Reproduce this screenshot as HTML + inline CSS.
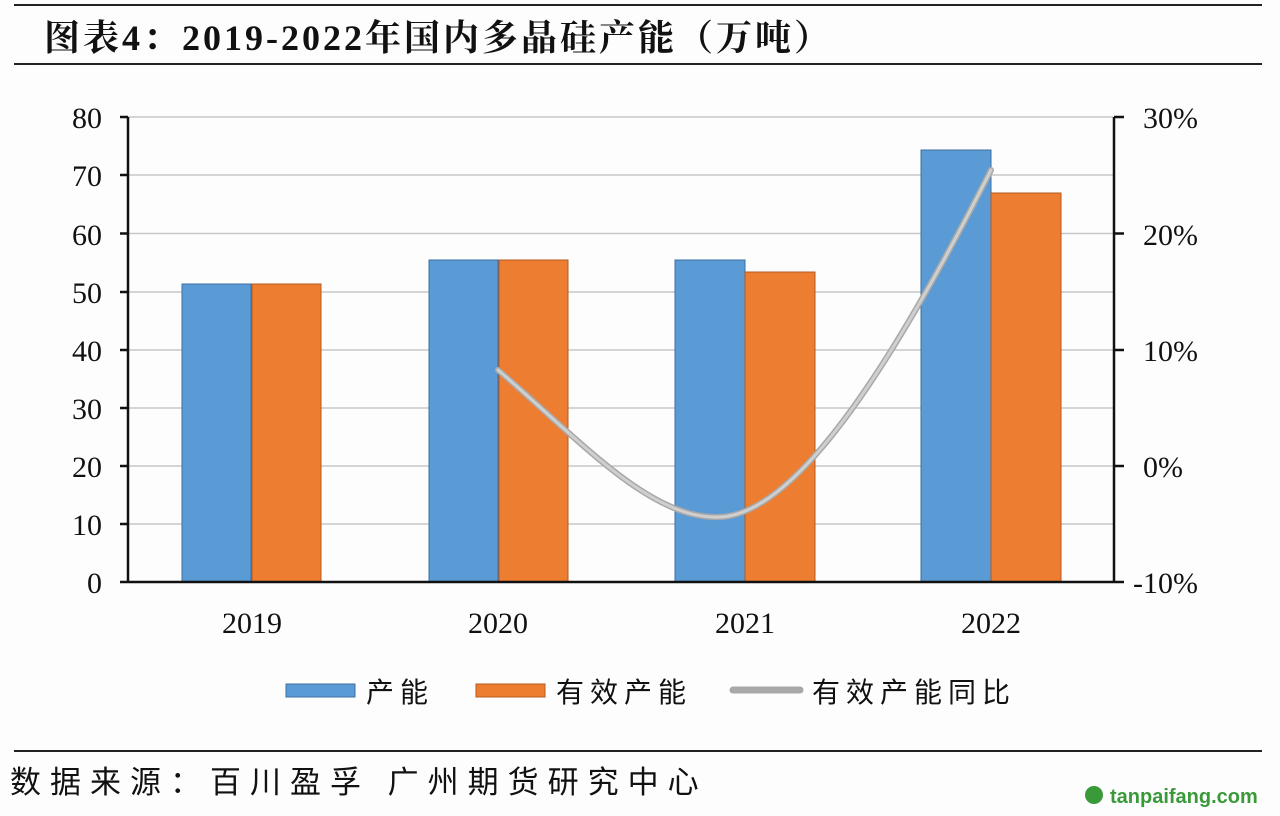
<!DOCTYPE html>
<html><head><meta charset="utf-8"><style>
body{margin:0;background:#fdfdfd;}
svg{display:block}
.t{font-family:"Liberation Serif",serif;font-size:30px;fill:#111}
.c{font-family:"Liberation Sans","Noto Sans CJK SC",sans-serif;fill:#111}
</style></head><body>
<svg width="1280" height="816" viewBox="0 0 1280 816">
<rect width="1280" height="816" fill="#fdfdfd"/>
<line x1="14" y1="5" x2="1262" y2="5" stroke="#222" stroke-width="2"/>
<text x="44" y="50" font-size="36" font-weight="bold" fill="#111" font-family="'Liberation Serif','Noto Serif CJK SC',serif" letter-spacing="3">图表4：2019-2022年国内多晶硅产能（万吨）</text>
<line x1="14" y1="64" x2="1262" y2="64" stroke="#222" stroke-width="2"/>
<g stroke="#c8c8c8" stroke-width="1.5">
<line x1="128" y1="117" x2="1113" y2="117"/><line x1="128" y1="175" x2="1113" y2="175"/>
<line x1="128" y1="233.5" x2="1113" y2="233.5"/><line x1="128" y1="292" x2="1113" y2="292"/>
<line x1="128" y1="350" x2="1113" y2="350"/><line x1="128" y1="408" x2="1113" y2="408"/>
<line x1="128" y1="466" x2="1113" y2="466"/><line x1="128" y1="524" x2="1113" y2="524"/>
</g>
<g stroke="#3d6fa3" stroke-width="1" fill="#5b9bd5">
<rect x="182" y="284" width="69" height="298"/>
<rect x="429" y="260" width="69" height="322"/>
<rect x="675" y="260" width="70" height="322"/>
<rect x="921" y="150" width="70" height="432"/>
</g>
<g stroke="#b35a1f" stroke-width="1" fill="#ed7d31">
<rect x="252" y="284" width="69" height="298"/>
<rect x="499" y="260" width="69" height="322"/>
<rect x="745" y="272" width="70" height="310"/>
<rect x="991" y="193" width="70" height="389"/>
</g>
<path d="M498,370 C580,440 650,520 720,517 C800,514 900,350 991,170" fill="none" stroke="#a8a8a8" stroke-width="6" stroke-linecap="round"/>
<path d="M498,370 C580,440 650,520 720,517 C800,514 900,350 991,170" fill="none" stroke="#cfcfcf" stroke-width="3" stroke-linecap="round"/>
<g stroke="#111" stroke-width="2.5">
<line x1="128" y1="117" x2="128" y2="583"/><line x1="128" y1="582" x2="1114" y2="582"/>
<line x1="1114" y1="117" x2="1114" y2="583"/>
<line x1="120" y1="117" x2="128" y2="117"/><line x1="120" y1="175" x2="128" y2="175"/><line x1="120" y1="233.5" x2="128" y2="233.5"/><line x1="120" y1="292" x2="128" y2="292"/><line x1="120" y1="350" x2="128" y2="350"/><line x1="120" y1="408" x2="128" y2="408"/><line x1="120" y1="466" x2="128" y2="466"/><line x1="120" y1="524" x2="128" y2="524"/><line x1="120" y1="582" x2="128" y2="582"/>
<line x1="1114" y1="117" x2="1124" y2="117"/><line x1="1114" y1="233.5" x2="1124" y2="233.5"/><line x1="1114" y1="350" x2="1124" y2="350"/><line x1="1114" y1="466" x2="1124" y2="466"/><line x1="1114" y1="582" x2="1124" y2="582"/>
</g>
<g class="t" text-anchor="end">
<text x="102" y="128">80</text><text x="102" y="186">70</text><text x="102" y="245">60</text><text x="102" y="303">50</text><text x="102" y="361">40</text><text x="102" y="419">30</text><text x="102" y="477">20</text><text x="102" y="535">10</text><text x="102" y="593">0</text>
</g>
<g class="t">
<text x="1143" y="128">30%</text><text x="1143" y="245">20%</text><text x="1143" y="361">10%</text><text x="1143" y="477">0%</text><text x="1133" y="593">-10%</text>
</g>
<g class="t" text-anchor="middle">
<text x="252" y="633">2019</text><text x="498" y="633">2020</text><text x="745" y="633">2021</text><text x="991" y="633">2022</text>
</g>
<rect x="286" y="684" width="69" height="13" fill="#5b9bd5" stroke="#3d6fa3"/>
<text x="366" y="702" class="c" font-size="28" letter-spacing="6">产能</text>
<rect x="476" y="684" width="69" height="13" fill="#ed7d31" stroke="#b35a1f"/>
<text x="556" y="702" class="c" font-size="28" letter-spacing="6">有效产能</text>
<line x1="733" y1="690" x2="800" y2="690" stroke="#a8a8a8" stroke-width="7" stroke-linecap="round"/>
<text x="812" y="702" class="c" font-size="28" letter-spacing="6">有效产能同比</text>
<line x1="14" y1="751" x2="1262" y2="751" stroke="#222" stroke-width="2"/>
<text x="10" y="793" class="c" font-size="31" letter-spacing="9">数据来源：百川盈孚 广州期货研究中心</text>
<circle cx="1094" cy="795" r="9" fill="#3a9a3a"/>
<text x="1110" y="803" font-family="'Liberation Sans',sans-serif" font-size="20" font-weight="bold" fill="#3a9a3a">tanpaifang.com</text>
</svg>
</body></html>
